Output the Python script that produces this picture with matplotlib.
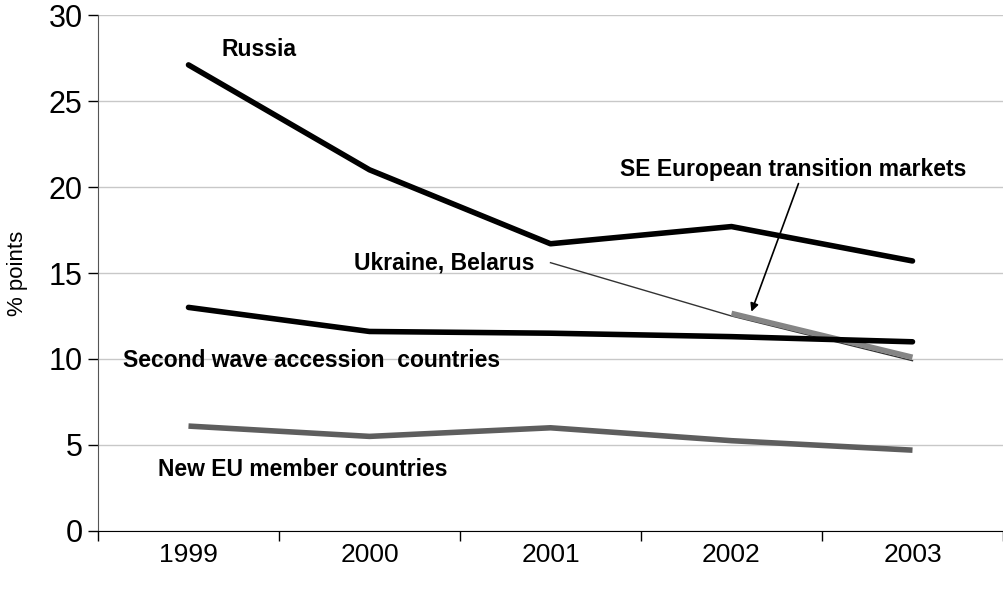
import matplotlib
matplotlib.use("Agg")
import matplotlib.pyplot as plt
from matplotlib.ticker import FixedLocator, NullFormatter

plt.rcParams['font.family'] = ['Liberation Sans', 'DejaVu Sans']

years = ['1999', '2000', '2001', '2002', '2003']
russia = [27.1, 21.0, 16.7, 17.7, 15.7]
second_wave = [13.0, 11.6, 11.5, 11.3, 11.0]
new_eu = [6.1, 5.5, 6.0, 5.25, 4.7]
se_europe = [None, None, None, 12.65, 10.1]
ukraine_belarus = [None, None, 15.6, 12.5, 9.9]

x = list(range(len(years)))

fig = plt.figure(figsize=(10.04, 5.89), dpi=100)
ax = fig.add_axes([0.0976, 0.0985, 0.9014, 0.876])

ax.set_ylim(0, 30)
ax.set_xlim(-0.5, 4.5)
ax.set_yticks(range(0, 31, 5))
ax.yaxis.grid(True, color='#c8c8c8', linewidth=1)
ax.set_axisbelow(True)

def pick(vals):
    pts = [(i, v) for i, v in zip(x, vals) if v is not None]
    return [p[0] for p in pts], [p[1] for p in pts]

ax.plot(*pick(ukraine_belarus), color='#333333', linewidth=1.0, zorder=3)
ax.plot(*pick(se_europe), color='#858585', linewidth=4.0, solid_capstyle='butt', zorder=4)
ax.plot(*pick(new_eu), color='#5e5e5e', linewidth=4.0, solid_capstyle='butt', zorder=4)
ax.plot(*pick(second_wave), color='black', linewidth=4.0, solid_capstyle='round', zorder=5)
ax.plot(*pick(russia), color='black', linewidth=4.0, solid_capstyle='round', zorder=5)

# series labels
lab = dict(fontsize=16.5, fontweight='bold', va='center')
ax.text(0.39, 28.0, 'Russia', ha='center', **lab)
ax.text(3.34, 21.0, 'SE European transition markets', ha='center', **lab)
ax.text(1.91, 15.6, 'Ukraine, Belarus', ha='right', **lab)
ax.text(-0.36, 9.9, 'Second wave accession  countries', ha='left', **lab)
ax.text(-0.17, 3.6, 'New EU member countries', ha='left', **lab)

ax.annotate('', xy=(3.11, 12.75), xytext=(3.37, 20.2),
            arrowprops=dict(arrowstyle='-|>', color='black', lw=1.2,
                            mutation_scale=12, shrinkA=0, shrinkB=0))

# category axis: labels at centres, tick marks between categories
ax.xaxis.set_major_locator(FixedLocator(x))
ax.set_xticklabels(years)
ax.xaxis.set_minor_locator(FixedLocator([i - 0.5 for i in range(len(years) + 1)]))
ax.xaxis.set_minor_formatter(NullFormatter())
ax.tick_params(axis='x', which='major', length=0, pad=9, labelsize=19)
ax.tick_params(axis='x', which='minor', length=7, width=1, direction='out')
ax.tick_params(axis='y', length=7, width=1, direction='out', labelsize=22, pad=4)

for s in ['top', 'right']:
    ax.spines[s].set_visible(False)
ax.spines['left'].set_color('#555555')
ax.spines['bottom'].set_color('black')

ax.set_ylabel('% points', fontsize=16)
ax.yaxis.set_label_coords(-0.077, 0.5)

fig.savefig('out.png', dpi=100)
